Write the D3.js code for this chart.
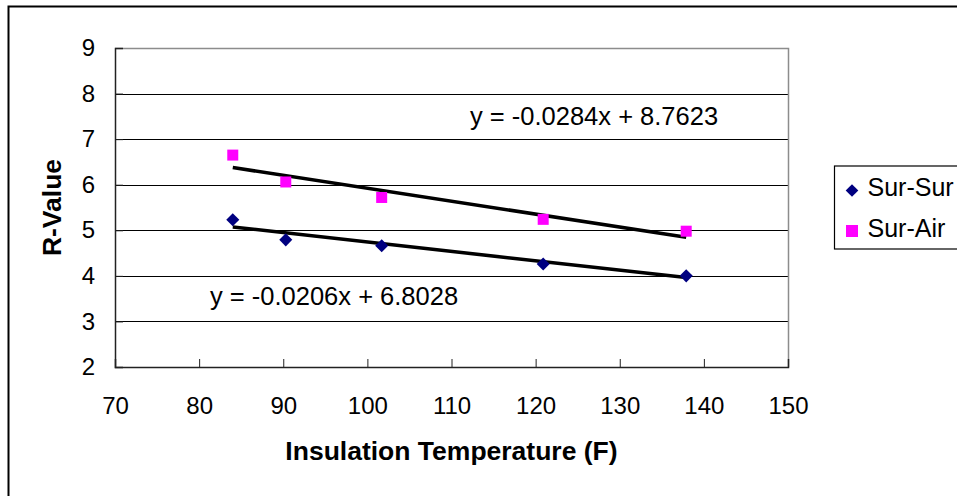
<!DOCTYPE html>
<html>
<head>
<meta charset="utf-8">
<script src="https://cdn.jsdelivr.net/npm/d3@7"></script>
<style>
  body { margin: 0; background: #fff; }
  svg { display: block; font-family: "Liberation Sans", Arial, sans-serif; }
</style>
</head>
<body>
<div id="container"></div>
<script>
// data
const temps = [84, 90.3, 101.7, 120.9, 137.9];
const surSur = [5.23, 4.79, 4.66, 4.26, 4.0];
const surAir = [6.65, 6.06, 5.72, 5.24, 4.98];
const seriesNames = ["Sur-Sur", "Sur-Air"];
// trendline coefficients as printed on the chart
const slopes = [-0.0206, -0.0284];
const intercepts = [6.8028, 8.7623];
const xTicks = [70, 80, 90, 100, 110, 120, 130, 140, 150];
const yTicks = [2, 3, 4, 5, 6, 7, 8, 9];

const w = 957, h = 496;
const plot = { left: 115, top: 48, right: 788, bottom: 367 };
const fontFam = "Liberation Sans, Arial, sans-serif";

const svg = d3.select("#container")
  .append("svg")
  .attr("width", w)
  .attr("height", h);

// chart area border (only top and left edges show in the frame)
svg.append("rect")
  .attr("x", 8.5).attr("y", 6.5)
  .attr("width", 1000).attr("height", 600)
  .attr("fill", "none")
  .attr("stroke", "#000")
  .attr("stroke-width", 2);

//SCALES
const xScale = d3.scaleLinear().domain([70, 150]).range([plot.left, plot.right]);
const yScale = d3.scaleLinear().domain([2, 9]).range([plot.bottom, plot.top]);

//GRIDLINES
svg.append("g")
  .selectAll("line")
  .data(yTicks.filter(t => t > 2 && t < 9))
  .enter()
  .append("line")
  .attr("x1", plot.left).attr("x2", plot.right)
  .attr("y1", d => Math.round(yScale(d)) + 0.5)
  .attr("y2", d => Math.round(yScale(d)) + 0.5)
  .attr("stroke", "#000")
  .attr("stroke-width", 1);

// top and right plot edges in grey
svg.append("path")
  .attr("d", `M${plot.left},${plot.top + 0.5}H${plot.right + 0.5}V${plot.bottom}`)
  .attr("fill", "none")
  .attr("stroke", "#8c8c8c")
  .attr("stroke-width", 1.5);

//AXES
const xAxis = d3.axisBottom(xScale).tickValues(xTicks).tickSize(-8).tickPadding(30)
  .tickFormat(d3.format("d"));
svg.append("g")
  .attr("transform", `translate(0, ${plot.bottom})`)
  .call(xAxis)
  .call(g => g.select(".domain").attr("stroke", "#222").attr("stroke-width", 1.5))
  .call(g => g.selectAll(".tick line").attr("stroke", "#222"))
  .call(g => g.selectAll("text").attr("font-size", 24).attr("fill", "#000")
    .attr("font-family", fontFam));

const yAxis = d3.axisLeft(yScale).tickValues(yTicks).tickSize(-8).tickPadding(20)
  .tickFormat(d3.format("d"));
svg.append("g")
  .attr("transform", `translate(${plot.left}, 0)`)
  .call(yAxis)
  .call(g => g.select(".domain").attr("stroke", "#222").attr("stroke-width", 1.5))
  .call(g => g.selectAll(".tick line").attr("stroke", "#222"))
  .call(g => g.selectAll("text").attr("font-size", 24).attr("fill", "#000")
    .attr("font-family", fontFam));

//AXIS TITLES
svg.append("text")
  .attr("x", (plot.left + plot.right) / 2)
  .attr("y", 460)
  .attr("text-anchor", "middle")
  .attr("font-size", 26.5)
  .attr("font-weight", "bold")
  .text("Insulation Temperature (F)");

svg.append("text")
  .attr("transform", `translate(61, ${(plot.top + plot.bottom) / 2}) rotate(-90)`)
  .attr("text-anchor", "middle")
  .attr("font-size", 26.5)
  .attr("font-weight", "bold")
  .text("R-Value");

//TRENDLINES
const xExt = d3.extent(temps);
const trend = svg.append("g");
slopes.forEach((m, i) => {
  trend.append("line")
    .attr("x1", xScale(xExt[0]))
    .attr("y1", yScale(m * xExt[0] + intercepts[i]))
    .attr("x2", xScale(xExt[1]))
    .attr("y2", yScale(m * xExt[1] + intercepts[i]))
    .attr("stroke", "#000")
    .attr("stroke-width", 3.5);
});

//POINTS
const diamond = d3.symbol().type(d3.symbolSquare).size(85);
svg.append("g")
  .selectAll("path")
  .data(temps.map((t, i) => [t, surSur[i]]))
  .enter()
  .append("path")
  .attr("d", diamond)
  .attr("transform", d => `translate(${xScale(d[0])}, ${yScale(d[1])}) rotate(45)`)
  .attr("fill", "#000080");

svg.append("g")
  .selectAll("rect")
  .data(temps.map((t, i) => [t, surAir[i]]))
  .enter()
  .append("rect")
  .attr("x", d => xScale(d[0]) - 5.5)
  .attr("y", d => yScale(d[1]) - 5.5)
  .attr("width", 11)
  .attr("height", 11)
  .attr("fill", "#ff00ff");

//EQUATION LABELS
const fmt = (m, b) => `y = ${m.toFixed(4)}x + ${b.toFixed(4)}`;
svg.append("text")
  .attr("x", 470).attr("y", 125)
  .attr("font-size", 25.5)
  .text(fmt(slopes[1], intercepts[1]));
svg.append("text")
  .attr("x", 210).attr("y", 305)
  .attr("font-size", 25.5)
  .text(fmt(slopes[0], intercepts[0]));

//LEGEND
const legend = svg.append("g");
legend.append("rect")
  .attr("x", 834.5).attr("y", 166)
  .attr("width", 200).attr("height", 83)
  .attr("fill", "#fff")
  .attr("stroke", "#000")
  .attr("stroke-width", 1.2);

legend.append("path")
  .attr("d", d3.symbol().type(d3.symbolSquare).size(80))
  .attr("transform", "translate(852, 190.5) rotate(45)")
  .attr("fill", "#000080");
legend.append("rect")
  .attr("x", 846).attr("y", 225)
  .attr("width", 12).attr("height", 12)
  .attr("fill", "#ff00ff");

legend.selectAll("text")
  .data(seriesNames)
  .enter()
  .append("text")
  .attr("x", 867.5)
  .attr("y", (d, i) => 196 + i * 41)
  .attr("font-size", 25)
  .text(d => d);
</script>
</body>
</html>
